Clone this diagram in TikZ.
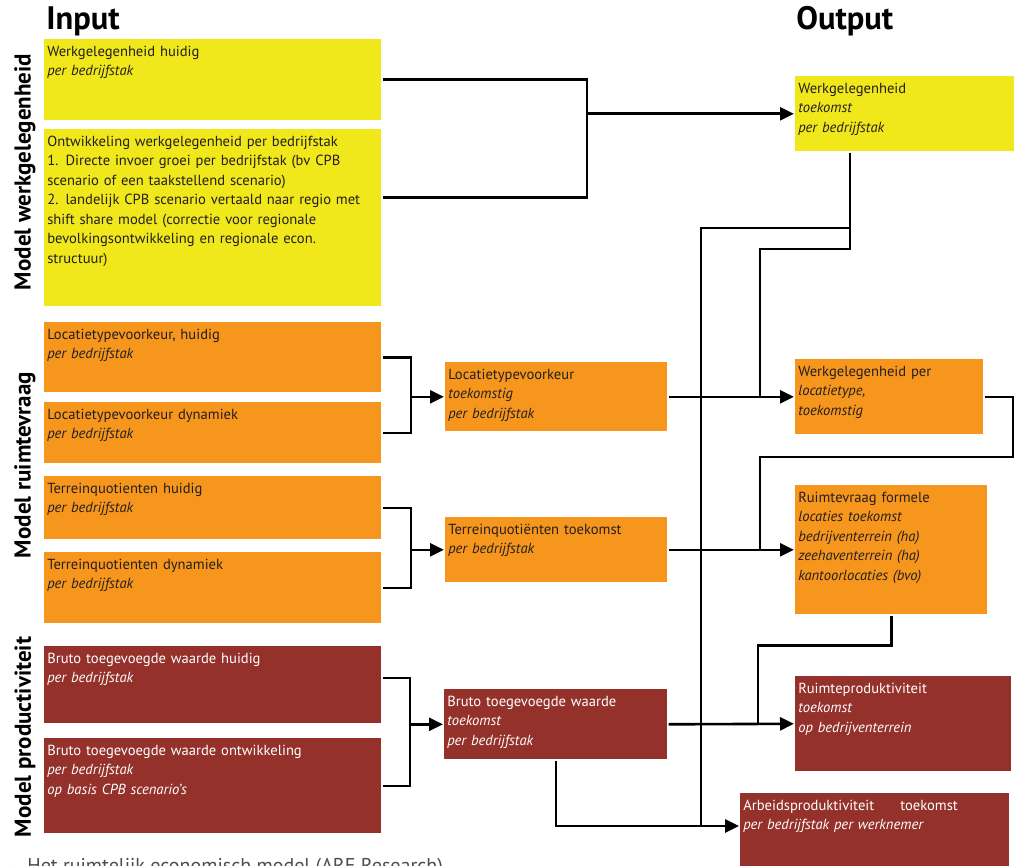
\documentclass[tikz,border=0pt]{standalone}
\usepackage{fontspec}
\setmainfont{PT Sans}
\newfontfamily\symfont{DejaVu Sans}
\usetikzlibrary{arrows.meta}
\definecolor{geel}{HTML}{F0E81A}
\definecolor{oranje}{HTML}{F7961D}
\definecolor{rood}{HTML}{93312A}
\definecolor{inkt}{HTML}{231F20}
\definecolor{grijs}{HTML}{4D4D4D}

\begin{document}
\begin{tikzpicture}[x=1pt, y=-1pt, line width=2.6pt,
  box/.style={anchor=north west, inner xsep=3pt, inner ysep=4pt, align=left,
    text height=13pt, text=inkt, font=\fontsize{14.6}{19.5}\selectfont},
  geelbox/.style={box, fill=geel},
  oranjebox/.style={box, fill=oranje},
  roodbox/.style={box, fill=rood, text=white},
  kop/.style={anchor=base west, inner sep=0pt, font=\bfseries\fontsize{32.5}{34}\selectfont},
  model/.style={rotate=90, inner sep=0pt, font=\bfseries\fontsize{23}{25}\selectfont},
  pijl/.style={-{Triangle[length=14pt,width=13pt]}}]
  \useasboundingbox (0,0) rectangle (1014,866);
  \clip (0,0) rectangle (1014,866);
  % Headings.
  \node[kop] (input) at (45,30) {Input};
  \node[kop] (output) at (795,30) {Output};
  \node[model] (mwerk) at (25,172) {Model werkgelegenheid};
  \node[model] (mruimte) at (25,465) {Model ruimtevraag};
  \node[model] (mprod) at (25,737) {Model productiviteit};
  % Input column.
  \node[geelbox, text width=331pt, text depth=60pt] (wh) at (43,38)
    {Werkgelegenheid huidig\\\textit{per bedrijfstak}};
  \node[geelbox, text width=331pt, text depth=156pt] (wo) at (43,128)
    {Ontwikkeling werkgelegenheid per bedrijfstak\\
     1. Directe invoer groei per bedrijfstak (bv CPB\\
     scenario of een taakstellend scenario)\\
     2. landelijk CPB scenario vertaald naar regio met\\
     shift share model (correctie voor regionale\\
     bevolkingsontwikkeling en regionale econ.\\
     structuur)};
  \node[oranjebox, text width=331pt, text depth=49pt] (lh) at (43,321)
    {Locatietypevoorkeur, huidig\\\textit{per bedrijfstak}};
  \node[oranjebox, text width=331pt, text depth=40pt] (ld) at (43,401)
    {Locatietypevoorkeur dynamiek\\\textit{per bedrijfstak}};
  \node[oranjebox, text width=331pt, text depth=42pt] (th) at (43,475)
    {Terreinquotienten huidig\\\textit{per bedrijfstak}};
  \node[oranjebox, text width=331pt, text depth=50pt] (td) at (43,551)
    {Terreinquotienten dynamiek\\\textit{per bedrijfstak}};
  \node[roodbox, text width=331pt, text depth=56pt] (bh) at (43,645)
    {Bruto toegevoegde waarde huidig\\\textit{per bedrijfstak}};
  \node[roodbox, text width=331pt, text depth=74pt] (bo) at (43,737)
    {Bruto toegevoegde waarde ontwikkeling\\\textit{per bedrijfstak}\\
     \textit{op basis CPB scenario's}};
  % Middle column.
  \node[oranjebox, text width=216pt, text depth=48pt] (lt) at (444,361)
    {Locatietypevoorkeur\\\textit{toekomstig}\\\textit{per bedrijfstak}};
  \node[oranjebox, text width=216pt, text depth=44pt] (tt) at (444,516)
    {Terreinquotiënten toekomst\\\textit{per bedrijfstak}};
  \node[roodbox, text width=217pt, text depth=49pt] (bt) at (443,688)
    {Bruto toegevoegde waarde\\\textit{toekomst}\\\textit{per bedrijfstak}};
  % Output column.
  \node[geelbox, text width=234pt, text depth=54pt] (wf) at (794,75)
    {Werkgelegenheid\\\textit{toekomst}\\\textit{per bedrijfstak}};
  \node[oranjebox, text width=182pt, text depth=54pt] (wl) at (794,358)
    {Werkgelegenheid per\\\textit{locatietype,}\\\textit{toekomstig}};
  \node[oranjebox, text width=186pt, text depth=108pt] (rf) at (794,484)
    {Ruimtevraag formele\\\textit{locaties toekomst}\\\textit{bedrijventerrein (ha)}\\
     \textit{zeehaventerrein (ha)}\\\textit{kantoorlocaties (bvo)}};
  \node[roodbox, text width=210pt, text depth=74pt] (rp) at (794,675)
    {Ruimteproduktiviteit\\\textit{toekomst}\\\textit{op bedrijventerrein}};
  \node[roodbox, text width=263pt, text depth=69pt] (ap) at (739,792)
    {Arbeidsproduktiviteit\hspace{26pt}toekomst\\\textit{per bedrijfstak per werknemer}};
  % Caption.
  \node[anchor=base west, inner sep=0pt, text=grijs, font=\fontsize{20}{22}\selectfont] (bron) at (9,872)
    {{\symfont\fontsize{10}{10}\selectfont ▲}\hspace{4pt} Het ruimtelijk economisch model (ARE Research)};
  % Inputs join.
  \draw (wh.east) -| ([xshift=-207pt]wf.west) |- ([yshift=20pt]wo.east);
  \draw[pijl] ([xshift=-207pt]wf.west) -- (wf.west);
  \foreach \a/\s/\b/\c in {lh/0pt/ld/lt, th/0pt/td/tt, bh/7pt/bo/bt} {
    \draw ([yshift=\s]\a.east) -| ([xshift=-33pt]\c.west) |- (\b.east);
    \draw[pijl] ([xshift=-33pt]\c.west) -- (\c.west);
  }
  \draw[pijl] (lt.east) -- (wl.west);
  \draw[pijl] (tt.east) -- (rf.west);
  \draw[pijl] (bt.east) -- (rp.west);
  % Feedback lines.
  \coordinate (busw) at (701,228);
  \coordinate (busl) at (760,249);
  \coordinate (busr) at (1013,457);
  \coordinate (apin) at ([yshift=-34pt]ap.north west);
  \draw ([xshift=56pt]wf.south west) |- (busw) -- (busw |- apin);
  \draw ([xshift=56pt]wf.south west) |- (busl) -- (busl |- wl.west);
  \draw (wl.east) -| (busr) -| ([xshift=-34pt]rf.west);
  \draw (rf.south) -- ++(0,30) -| ([xshift=-36pt]rp.west);
  \draw[pijl] (bt.south) |- (apin);
\end{tikzpicture}
\end{document}
